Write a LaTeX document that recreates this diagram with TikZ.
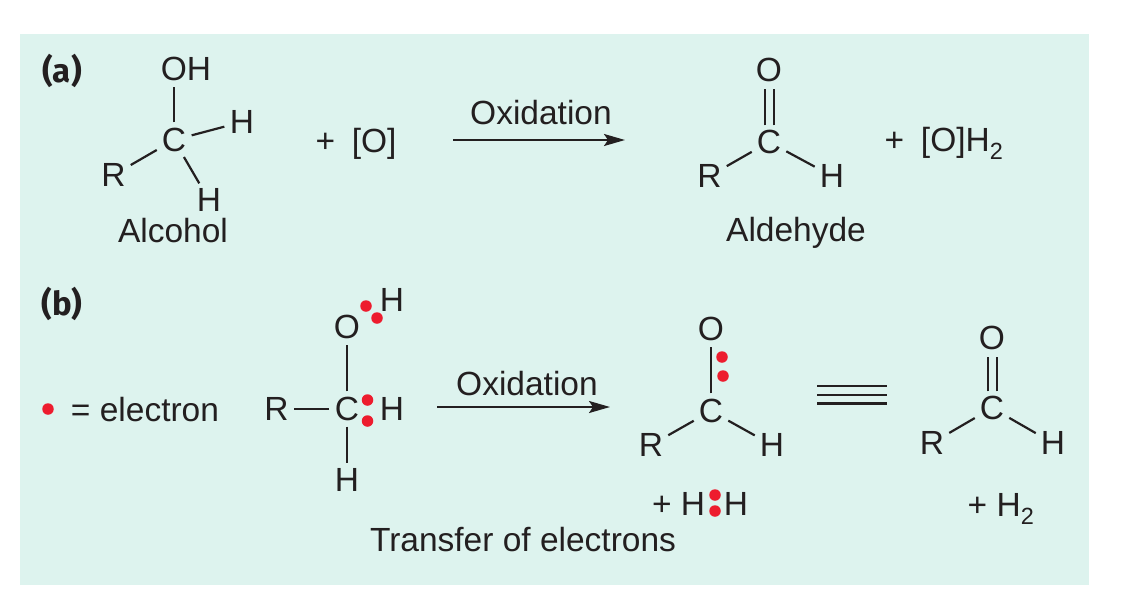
\documentclass[tikz,border=0pt]{standalone}
\usepackage{fontspec}
\setmainfont{Liberation Sans}
\newfontfamily\labelfont{Fira Sans}
\usetikzlibrary{arrows.meta}
\definecolor{panel}{HTML}{DDF3EE}
\definecolor{ink}{HTML}{231F20}
\definecolor{dotred}{HTML}{ED1C2E}
\tikzset{
  txt/.style={inner sep=0pt,text=ink,font=\fontsize{33.5}{38}\selectfont},
  atom/.style={txt,inner sep=1.5pt},
  plabel/.style={inner sep=0pt,text=ink,font=\labelfont\bfseries\fontsize{33}{38}\selectfont},
  bond/.style={draw=ink,line width=2.2pt,shorten <=4pt,shorten >=4pt},
  dbl/.style={draw=ink,line width=2pt,shorten <=3pt,shorten >=5pt},
  rxn/.style={draw=ink,line width=2pt,-{Stealth[length=21pt,width=12pt,inset=4pt]}},
  bars/.style={draw=ink,line width=2.8pt},
  edot/.style={circle,fill=dotred,inner sep=0pt,minimum size=11.5pt},
}
\begin{document}
\begin{tikzpicture}[x=1pt,y=-1pt]
\useasboundingbox (0,0) rectangle (1125,600);
\fill[panel] (20,34) rectangle (1089,585);
% (a)
\node[plabel] (la) at (62,71) {(a)};
\node[atom] (aC) at (174,140) {C};
\node[atom] (aOH) at (186,69) {OH};
\node[atom] (aH1) at (242,122) {H};
\node[atom] (aR) at (113.5,175) {R};
\node[atom] (aH2) at (209,200) {H};
\node[txt] (aAlc) at (173,230.5) {Alcohol};
\draw[bond] (aC) -- (aC |- aOH.south);
\draw[bond] (aC) -- (aH1);
\draw[bond] (aC) -- (aR);
\draw[bond] (aC) -- (aH2);
\node[txt] (aO2) at (356,144) {+\hspace{0.5em}[O]};
\node[txt] (aOx) at (541,113) {Oxidation};
\coordinate (aA1) at (453,140);
\coordinate (aA2) at (625,140);
\draw[rxn] (aA1) -- (aA2);
\node[atom] (bO) at (769,70) {O};
\node[atom] (bC) at (769,142) {C};
\node[atom] (bR) at (709.5,176) {R};
\node[atom] (bH) at (832,176) {H};
\draw[dbl,transform canvas={xshift=-4.5pt}] (bC) -- (bO);
\draw[dbl,transform canvas={xshift=4.5pt}] (bC) -- (bO);
\draw[bond] (bC) -- (bR);
\draw[bond] (bC) -- (bH);
\node[txt] (bAld) at (796,232.5) {Aldehyde};
\node[txt] (bO2) at (944,143) {+\hspace{0.5em}[O]H\textsubscript{2}};
% (b)
\node[plabel] (lb) at (62,304) {(b)};
\node[edot] (key) at (48,409) {};
\node[txt] (keyt) at (145,409.5) {= electron};
\node[atom] (cC) at (347,409) {C};
\node[atom] (cO) at (347,327) {O};
\node[atom] (cH1) at (392,300) {H};
\node[atom] (cH2) at (392,409) {H};
\node[atom] (cH3) at (347,480) {H};
\node[atom] (cR) at (276.5,409) {R};
\draw[bond] (cC) -- (cO);
\draw[bond] (cC) -- (cH3);
\draw[bond] (cC) -- (cR);
\node[edot] (d1) at (366,306) {};
\node[edot] (d2) at (377,318) {};
\node[edot] (d3) at (367.5,400) {};
\node[edot] (d4) at (367.5,421) {};
\node[txt] (cOx) at (527,384) {Oxidation};
\coordinate (cA1) at (437,407);
\coordinate (cA2) at (610,407);
\draw[rxn] (cA1) -- (cA2);
\node[atom] (eO) at (711,329) {O};
\node[atom] (eC) at (711,411) {C};
\node[atom] (eR) at (651,445) {R};
\node[atom] (eH) at (772,445) {H};
\draw[bond] (eC) -- (eO);
\draw[bond] (eC) -- (eR);
\draw[bond] (eC) -- (eH);
\node[edot] (d5) at (722,357) {};
\node[edot] (d6) at (723,376) {};
\node[txt] (ePl) at (662,506) {+};
\node[txt] (eH1) at (693,504) {H};
\node[txt] (eH2) at (736,504) {H};
\node[edot] (d7) at (715,495) {};
\node[edot] (d8) at (715,511) {};
\node[txt] (tr) at (523,539.5) {Transfer of electrons};
\coordinate (tA) at (817,386);
\coordinate (tB) at (887,386);
\coordinate (tC) at (817,395);
\coordinate (tD) at (887,395);
\coordinate (tE) at (817,403.5);
\coordinate (tF) at (887,403.5);
\draw[bars] (tA) -- (tB);
\draw[bars] (tC) -- (tD);
\draw[bars] (tE) -- (tF);
\node[atom] (fO) at (992,338) {O};
\node[atom] (fC) at (992,408) {C};
\node[atom] (fR) at (932,443) {R};
\node[atom] (fH) at (1053,443) {H};
\draw[dbl,transform canvas={xshift=-4.5pt}] (fC) -- (fO);
\draw[dbl,transform canvas={xshift=4.5pt}] (fC) -- (fO);
\draw[bond] (fC) -- (fR);
\draw[bond] (fC) -- (fH);
\node[txt] (fH2) at (1001,509) {+ H\textsubscript{2}};
\end{tikzpicture}
\end{document}
